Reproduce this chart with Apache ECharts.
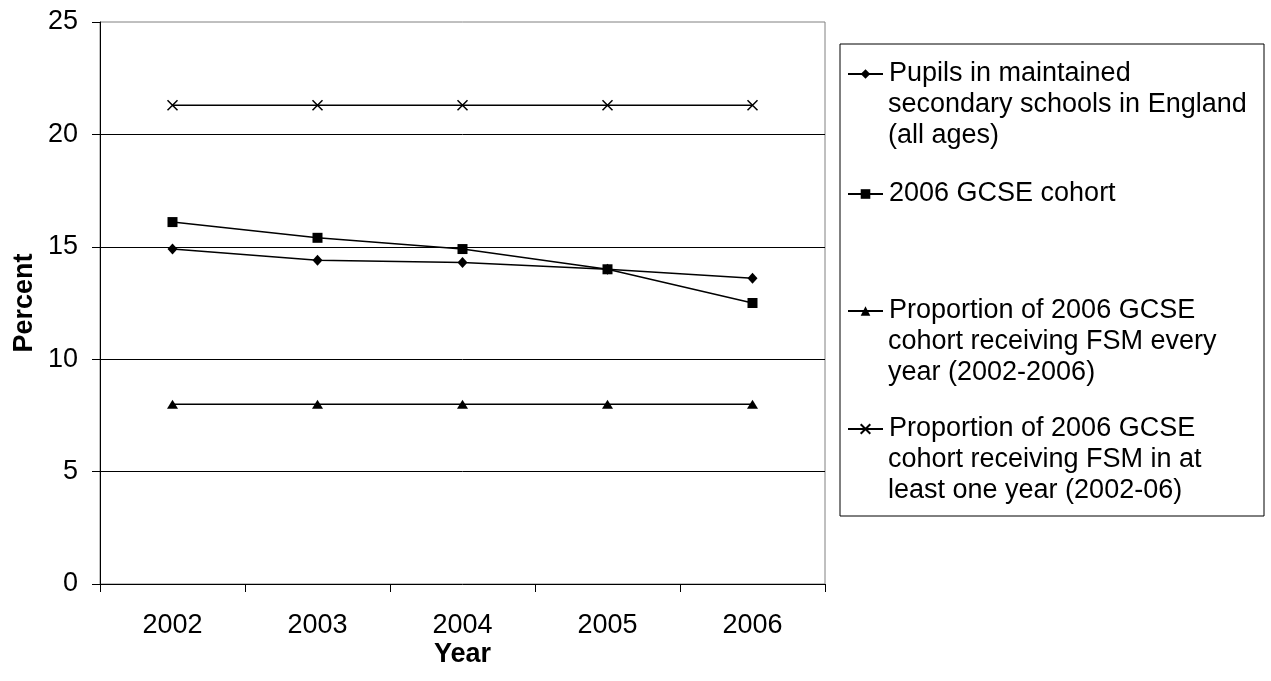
<!DOCTYPE html>
<html>
<head>
<meta charset="utf-8">
<title>Free school meals eligibility, 2002-2006</title>
<script src="https://cdn.jsdelivr.net/npm/echarts@6/dist/echarts.min.js"></script>
<style>
  html, body { margin: 0; padding: 0; background: #fff; }
  #chart { width: 1271px; height: 681px; }
</style>
</head>
<body>
<div id="chart"></div>
<script>
// Categories (years) and y-axis range
const years = ['2002', '2003', '2004', '2005', '2006'];
const yMin = 0, yMax = 25, yStep = 5;

// Series values (percent)
const pupilsAllAges   = [14.9, 14.4, 14.3, 14.0, 13.6];
const gcseCohort      = [16.1, 15.4, 14.9, 14.0, 12.5];
const fsmEveryYear    = [8.0, 8.0, 8.0, 8.0, 8.0];
const fsmAtLeastOnce  = [21.3, 21.3, 21.3, 21.3, 21.3];

// Legend text, one array of wrapped lines per series
const legendPupils = ['Pupils in maintained', 'secondary schools in England', '(all ages)'];
const legendCohort = ['2006 GCSE cohort'];
const legendEvery  = ['Proportion of 2006 GCSE', 'cohort receiving FSM every', 'year (2002-2006)'];
const legendOnce   = ['Proportion of 2006 GCSE', 'cohort receiving FSM in at', 'least one year (2002-06)'];

const FONT = '"Liberation Sans", Arial, Helvetica, sans-serif';
const FS = 27;

const seriesDefs = [
  { lines: legendPupils, data: pupilsAllAges,  symbol: 'diamond',  size: [10, 11] },
  { lines: legendCohort, data: gcseCohort,     symbol: 'rect',     size: 10 },
  { lines: legendEvery,  data: fsmEveryYear,   symbol: 'triangle', size: [11, 9] },
  { lines: legendOnce,   data: fsmAtLeastOnce, symbol: 'path://M0,0L10,10M0,10L10,0', size: 10, cross: true }
];
const fullName = d => d.lines.join(' ');
const firstLine = {};
seriesDefs.forEach(d => { firstLine[fullName(d)] = d.lines[0]; });

// Legend layout: vertical centre of each entry's first line, wrapped-line step
const legendLeft = 847;
const legendCenters = [73, 193, 310, 428];
const legendIconH = 12;
const legendTopOffset = 12.5;
const lineStep = 31.5;

const graphics = [{
  type: 'rect',
  shape: { x: 840, y: 44, width: 424, height: 472 },
  style: { fill: 'none', stroke: '#000', lineWidth: 1 },
  z: 0
}];
seriesDefs.forEach((d, i) => {
  d.lines.slice(1).forEach((t, k) => {
    graphics.push({
      type: 'text',
      x: legendLeft + 35 + 6,
      y: legendCenters[i] + (k + 1) * lineStep,
      style: { text: t, font: FS + 'px ' + FONT, fill: '#000', verticalAlign: 'middle', align: 'left' },
      z: 10
    });
  });
});

// One legend block per series so each entry sits at its own row
const legends = seriesDefs.map((d, i) => ({
  orient: 'vertical',
  left: legendLeft,
  top: legendCenters[i] - legendTopOffset,
  padding: 0,
  itemWidth: 35,
  itemHeight: legendIconH,
  selectedMode: false,
  data: [fullName(d)],
  formatter: name => firstLine[name],
  textStyle: { fontFamily: FONT, fontSize: FS, color: '#000', padding: [0, 0, 0, 1] }
}));

const chart = echarts.init(document.getElementById('chart'), null, { renderer: 'canvas' });
chart.setOption({
  animation: false,
  backgroundColor: '#fff',
  textStyle: { fontFamily: FONT, color: '#000' },
  grid: {
    left: 100, right: 446, top: 22, bottom: 97,
    show: true, borderColor: '#808080', borderWidth: 1, backgroundColor: 'transparent'
  },
  legend: legends,
  xAxis: {
    type: 'category',
    data: years,
    boundaryGap: true,
    name: 'Year',
    nameLocation: 'middle',
    nameGap: 57,
    nameMoveOverlap: false,
    nameTextStyle: { fontFamily: FONT, fontSize: FS, fontWeight: 'bold', color: '#000' },
    axisLine: { lineStyle: { color: '#000', width: 1 } },
    axisTick: { show: true, alignWithLabel: false, length: 8, lineStyle: { color: '#000' } },
    axisLabel: { fontFamily: FONT, fontSize: FS, color: '#000', margin: 28 },
    splitLine: { show: false }
  },
  yAxis: {
    type: 'value',
    min: yMin, max: yMax, interval: yStep,
    name: 'Percent',
    nameLocation: 'middle',
    nameRotate: 90,
    nameGap: 62,
    nameMoveOverlap: false,
    nameTextStyle: { fontFamily: FONT, fontSize: FS, fontWeight: 'bold', color: '#000' },
    axisLine: { show: true, lineStyle: { color: '#000', width: 1 } },
    axisTick: { show: true, length: 8, lineStyle: { color: '#000' } },
    axisLabel: { fontFamily: FONT, fontSize: FS, color: '#000', margin: 22 },
    splitLine: { show: true, showMinLine: false, showMaxLine: false, lineStyle: { color: '#000', width: 1 } }
  },
  graphic: graphics,
  series: seriesDefs.map(d => ({
    type: 'line',
    name: fullName(d),
    data: d.data,
    symbol: d.symbol,
    symbolSize: d.size,
    showAllSymbol: true,
    lineStyle: { color: '#000', width: 1.5 },
    itemStyle: d.cross
      ? { color: '#000', borderColor: '#000', borderWidth: 1.5 }
      : { color: '#000', borderWidth: 0 },
    emphasis: { disabled: true },
    z: 3
  }))
});
</script>
</body>
</html>
